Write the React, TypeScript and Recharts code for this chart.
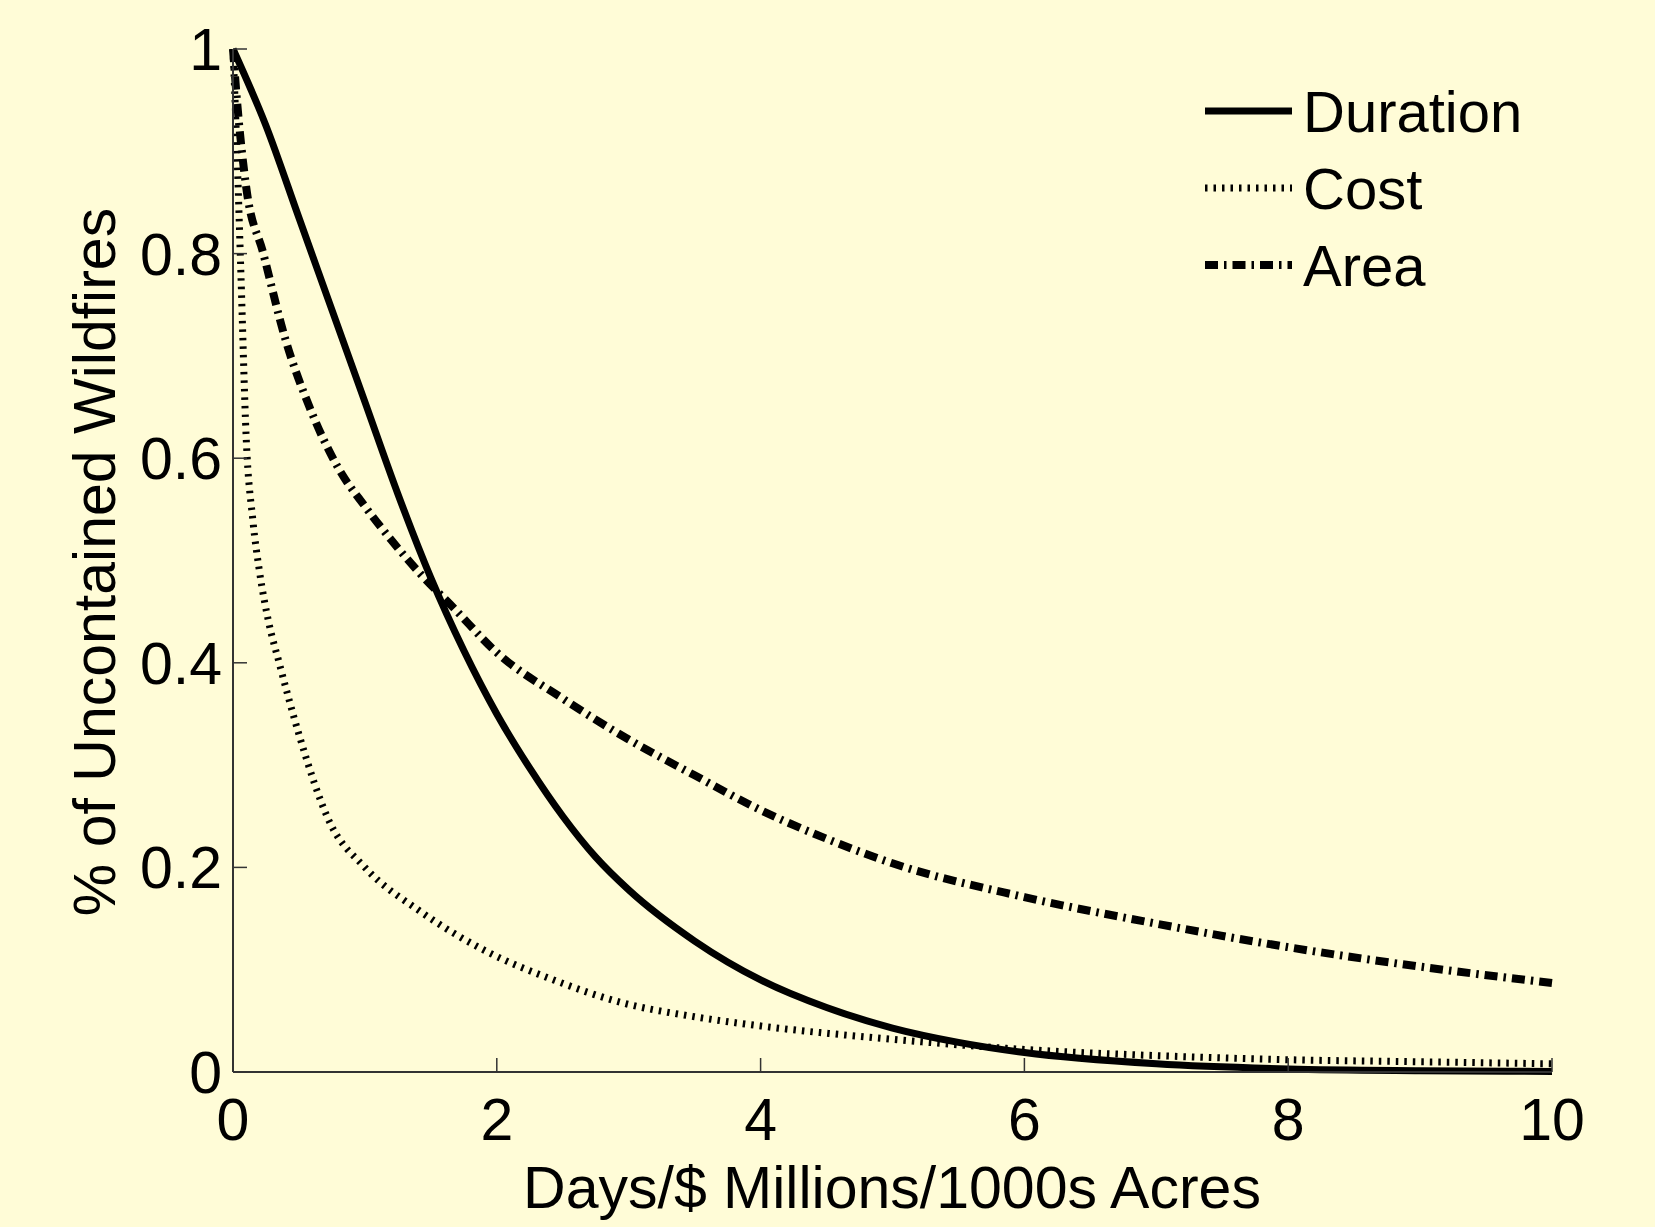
import React from "react";
import { LineChart, Line, XAxis, YAxis, Label } from "recharts";

// axis ticks
const xTicks = [0, 2, 4, 6, 8, 10];
const yTicks = [0, 0.2, 0.4, 0.6, 0.8, 1];

// Duration (solid)
const durationX = [0, 0.25, 0.5, 0.75, 1, 1.25, 1.5, 1.75, 2, 2.25, 2.5, 2.75, 3, 3.5, 4, 4.5, 5, 5.5, 6, 7, 8, 9, 10];
const durationY = [1, 0.925, 0.835, 0.745, 0.655, 0.565, 0.483, 0.412, 0.35, 0.297, 0.25, 0.21, 0.178, 0.128, 0.09, 0.063, 0.043, 0.029, 0.019, 0.008, 0.003, 0.0013, 0.0006];

// Cost (dotted)
const costX = [0, 0.03, 0.06, 0.1, 0.15, 0.2, 0.27, 0.35, 0.5, 0.73, 1, 1.42, 1.92, 2.43, 2.94, 3.5, 4, 5, 6, 7, 8, 9, 10];
const costY = [1, 0.9, 0.78, 0.62, 0.54, 0.49, 0.44, 0.4, 0.33, 0.245, 0.2, 0.157, 0.118, 0.09, 0.068, 0.054, 0.045, 0.032, 0.022, 0.016, 0.012, 0.01, 0.008];

// Area (dash-dot)
const areaX = [0, 0.03, 0.1, 0.23, 0.4, 0.58, 0.8, 1, 1.2, 1.42, 1.67, 2, 2.5, 3, 3.5, 4, 4.5, 5, 6, 7, 8, 9, 10];
const areaY = [1, 0.95, 0.865, 0.8, 0.715, 0.65, 0.59, 0.553, 0.52, 0.487, 0.454, 0.41, 0.365, 0.325, 0.29, 0.256, 0.228, 0.204, 0.171, 0.145, 0.122, 0.103, 0.087];

const toPoints = (xs: number[], ys: number[]) => xs.map((x, i) => ({ x, y: ys[i] }));

const series = [
  { name: "Duration", data: toPoints(durationX, durationY), width: 7, dash: undefined as string | undefined },
  { name: "Cost", data: toPoints(costX, costY), width: 7, dash: "2.5 6" },
  { name: "Area", data: toPoints(areaX, areaY), width: 8, dash: "13 6 2.5 6" },
];

const W = 1655;
const H = 1227;
const LEFT = 233;
const RIGHT = 1552;
const TOP = 49;
const BOTTOM = 1072;
const TICK = 14;
const FONT = '"Liberation Sans", Arial, Helvetica, sans-serif';
const FS = 59;
const FRAME = "#333333";
const BG = "#FFFCD7";

const BottomTick = ({ x, payload }: any) => (
  <g>
    <line x1={x} x2={x} y1={BOTTOM} y2={BOTTOM - TICK} stroke={FRAME} strokeWidth={1.5} />
    <text x={x} y={BOTTOM + 68} textAnchor="middle" fontSize={FS} fontFamily={FONT} fill="#000">
      {String(payload.value)}
    </text>
  </g>
);

const TopTick = ({ x }: any) => (
  <line x1={x} x2={x} y1={TOP} y2={TOP + TICK} stroke={FRAME} strokeWidth={1.5} />
);

const LeftTick = ({ y, payload }: any) => (
  <g>
    <line x1={LEFT} x2={LEFT + TICK} y1={y} y2={y} stroke={FRAME} strokeWidth={1.5} />
    <text x={LEFT - 11} y={y + 21} textAnchor="end" fontSize={FS} fontFamily={FONT} fill="#000">
      {String(payload.value)}
    </text>
  </g>
);

const RightTick = ({ y }: any) => (
  <line x1={RIGHT} x2={RIGHT - TICK} y1={y} y2={y} stroke={FRAME} strokeWidth={1.5} />
);

const LegendBox = () => (
  <svg
    width={360}
    height={240}
    style={{ position: "absolute", left: 1195, top: 50, overflow: "visible" }}
  >
    {series.map((s, i) => {
      const cy = 61 + i * 77;
      return (
        <g key={s.name}>
          <line
            x1={10}
            x2={97}
            y1={cy}
            y2={cy}
            stroke="#000"
            strokeWidth={s.width}
            strokeDasharray={s.dash}
          />
          <text x={108} y={cy + 21} fontSize={58} fontFamily={FONT} fill="#000">
            {s.name}
          </text>
        </g>
      );
    })}
  </svg>
);

export default function App() {
  return (
    <div style={{ position: "absolute", left: 0, top: 0, width: W, height: H, background: BG }}>
      <LineChart
        width={W}
        height={H}
        margin={{ top: TOP, right: W - RIGHT, bottom: 0, left: 0 }}
      >
        <XAxis
          dataKey="x"
          type="number"
          domain={[0, 10]}
          ticks={xTicks}
          height={H - BOTTOM}
          axisLine={{ stroke: FRAME, strokeWidth: 2 }}
          tickLine={false}
          tick={<BottomTick />}
          interval={0}
        >
          <Label
            content={() => (
              <text x={892} y={1208} textAnchor="middle" fontSize={FS} fontFamily={FONT} fill="#000">
                Days/$ Millions/1000s Acres
              </text>
            )}
          />
        </XAxis>
        <XAxis
          xAxisId="top"
          orientation="top"
          dataKey="x"
          type="number"
          domain={[0, 10]}
          ticks={xTicks}
          height={0}
          axisLine={{ stroke: FRAME, strokeWidth: 2 }}
          tickLine={false}
          tick={<TopTick />}
          interval={0}
        />
        <YAxis
          type="number"
          domain={[0, 1]}
          ticks={yTicks}
          width={LEFT}
          axisLine={{ stroke: FRAME, strokeWidth: 2 }}
          tickLine={false}
          tick={<LeftTick />}
          interval={0}
        >
          <Label
            content={() => (
              <text
                x={115}
                y={562}
                transform="rotate(-90 115 562)"
                textAnchor="middle"
                fontSize={FS}
                fontFamily={FONT}
                fill="#000"
              >
                % of Uncontained Wildfires
              </text>
            )}
          />
        </YAxis>
        <YAxis
          yAxisId="right"
          orientation="right"
          type="number"
          domain={[0, 1]}
          ticks={yTicks}
          width={0}
          axisLine={{ stroke: FRAME, strokeWidth: 2 }}
          tickLine={false}
          tick={<RightTick />}
          interval={0}
        />
        {series.map((s) => (
          <Line
            key={s.name}
            data={s.data}
            dataKey="y"
            name={s.name}
            type="monotone"
            stroke="#000"
            strokeWidth={s.width}
            strokeDasharray={s.dash}
            dot={false}
            activeDot={false}
            isAnimationActive={false}
          />
        ))}
      </LineChart>
      <LegendBox />
    </div>
  );
}
